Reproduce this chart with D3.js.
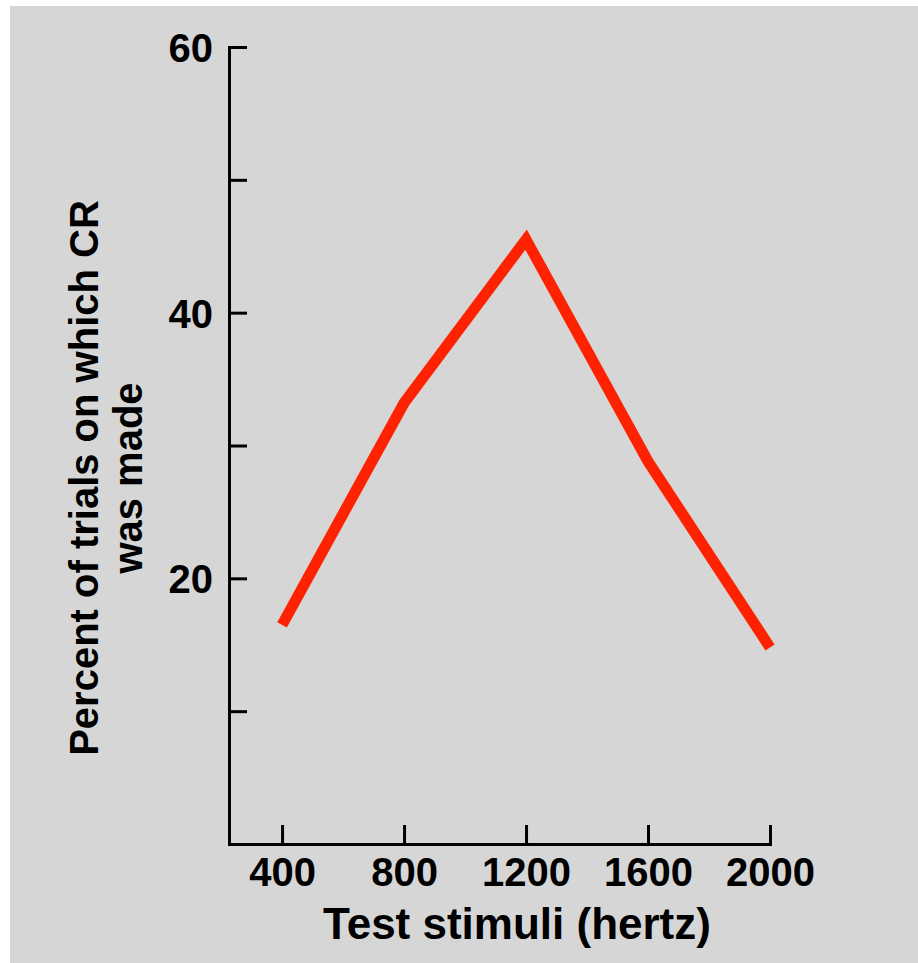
<!DOCTYPE html>
<html>
<head>
<meta charset="utf-8">
<script src="https://cdn.jsdelivr.net/npm/d3@7"></script>
<style>
  body { margin: 0; background: #fff; }
  text { font-family: 'Liberation Sans', Arial, sans-serif; font-weight: bold; fill: #000; }
</style>
</head>
<body>
<div id="chart"></div>
<script>
const frequencies = [400, 800, 1200, 1600, 2000];
const percentCR = [16.5, 33.2, 45.5, 28.8, 14.8];
const xTicks = [400, 800, 1200, 1600, 2000];
const yTicks = [10, 20, 30, 40, 50, 60];
const yLabelled = [20, 40, 60];

const w = 918;
const h = 963;

const svg = d3.select('#chart')
  .append('svg')
  .attr('width', w)
  .attr('height', h);

svg.append('rect')
  .attr('x', 10)
  .attr('y', 6)
  .attr('width', w - 10)
  .attr('height', h - 6)
  .attr('fill', '#d6d6d6');

const xScale = d3.scaleLinear()
  .domain([226, 2000])
  .range([229, 770]);
const yScale = d3.scaleLinear()
  .domain([0, 60])
  .range([844, 47]);

const xAxis = d3.axisBottom(xScale)
  .tickValues(xTicks)
  .tickSizeInner(-19)
  .tickSizeOuter(0)
  .tickPadding(14)
  .tickFormat(d3.format('d'));
const yAxis = d3.axisLeft(yScale)
  .tickValues(yTicks)
  .tickSizeInner(-18)
  .tickSizeOuter(0)
  .tickPadding(16)
  .tickFormat(d => yLabelled.includes(d) ? d : '');

const gx = svg.append('g')
  .attr('transform', 'translate(0, ' + yScale(0) + ')')
  .call(xAxis);
const gy = svg.append('g')
  .attr('transform', 'translate(' + xScale(226) + ', 0)')
  .call(yAxis);

[gx, gy].forEach(g => {
  g.select('.domain')
    .attr('stroke', '#000')
    .attr('stroke-width', 3)
    .attr('stroke-linecap', 'square');
  g.selectAll('.tick line')
    .attr('stroke', '#000')
    .attr('stroke-width', 3);
  g.selectAll('.tick text')
    .attr('font-size', 40)
    .attr('font-family', null)
    .attr('fill', '#000');
});
gy.selectAll('.tick text').attr('dy', '0.36em');

const line = d3.line()
  .x((d, i) => xScale(frequencies[i]))
  .y(d => yScale(d));

svg.append('path')
  .datum(percentCR)
  .attr('d', line)
  .attr('fill', 'none')
  .attr('stroke', '#ff2200')
  .attr('stroke-width', 11)
  .attr('stroke-linejoin', 'miter');

svg.append('text')
  .attr('x', 517)
  .attr('y', 939)
  .attr('text-anchor', 'middle')
  .attr('font-size', 44)
  .text('Test stimuli (hertz)');

const ylab = svg.append('text')
  .attr('transform', 'translate(98, 478) rotate(-90)')
  .attr('text-anchor', 'middle')
  .attr('font-size', 40);
ylab.append('tspan')
  .attr('x', 0)
  .attr('y', 0)
  .text('Percent of trials on which CR');
ylab.append('tspan')
  .attr('x', 0)
  .attr('y', 44)
  .text('was made');
</script>
</body>
</html>
